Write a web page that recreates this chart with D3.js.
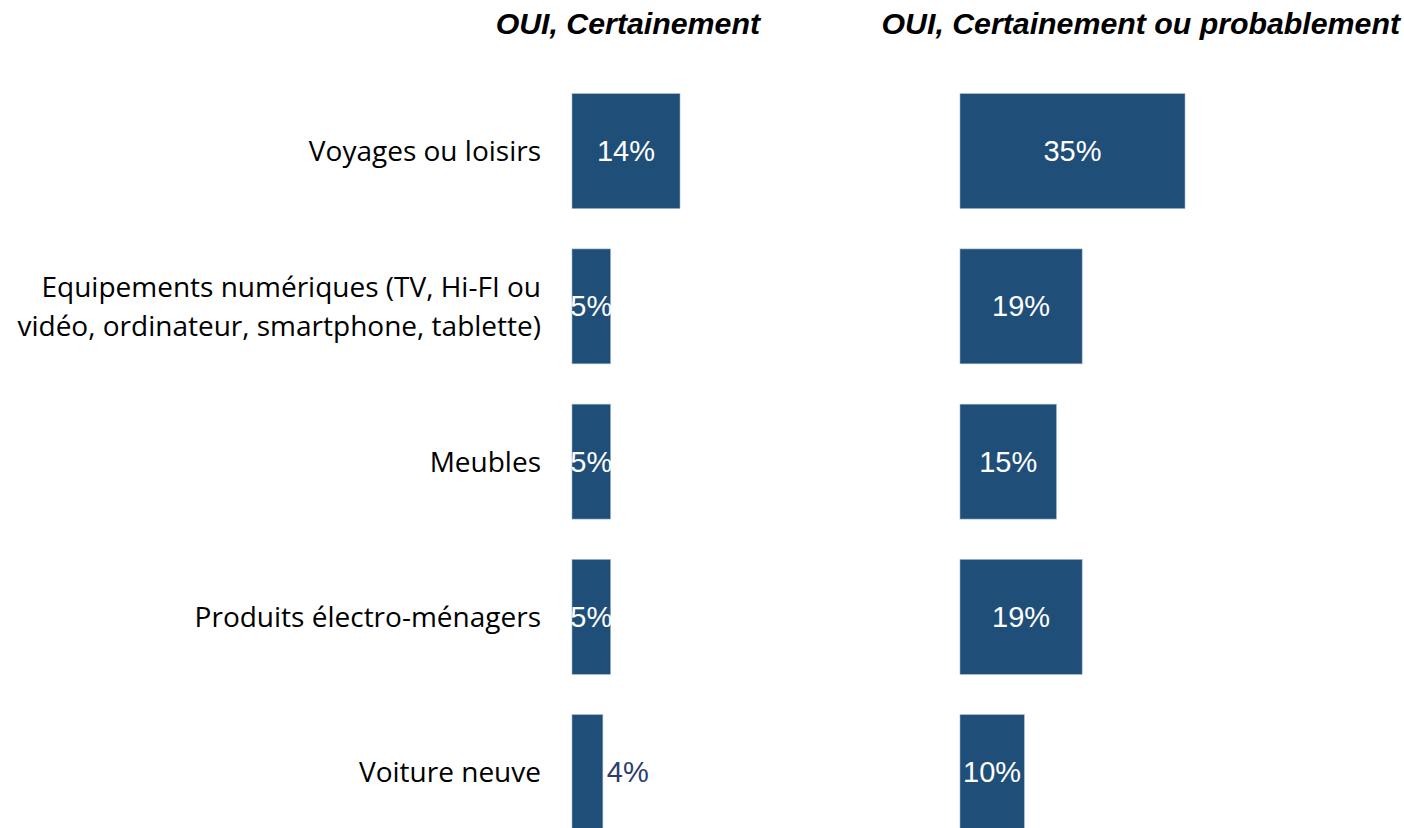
<!DOCTYPE html>
<html>
<head>
<meta charset="utf-8">
<script src="https://cdn.jsdelivr.net/npm/d3@7"></script>
<style>
  body { margin: 0; background: #fff; }
</style>
</head>
<body>
<div id="chart"></div>
<script>
// data
const categories = [
  ["Voyages ou loisirs"],
  ["Equipements numériques (TV, Hi-FI ou", "vidéo, ordinateur, smartphone, tablette)"],
  ["Meubles"],
  ["Produits électro-ménagers"],
  ["Voiture neuve"]
]
const certain = [14, 5, 5, 5, 4]
const certainOuProbable = [35, 19, 15, 19, 10]
const headers = ["OUI, Certainement", "OUI, Certainement ou probablement"]

const W = 1404, H = 828
const barColor = "#1f4e79"

const svg = d3.select('#chart')
  .append('svg')
    .attr('width', W)
    .attr('height', H)

const y = d3.scaleBand()
  .domain(d3.range(categories.length))
  .range([73.5, 849.75])
  .paddingInner(0.26)
  .paddingOuter(0.13)

// the two panels do not share a scale in the original
const xLeft = d3.scaleLinear().domain([0, 14]).range([572, 680])
const xRight = d3.scaleLinear().domain([0, 35]).range([960, 1185])

// category labels
const labels = svg.append('g')
  .attr('id', 'labels')
  .style('font-family', '"Open Sans", Lato, sans-serif')
  .style('font-size', '28px')
  .style('fill', '#000')

labels.selectAll('text')
  .data(categories)
  .enter()
  .append('text')
    .attr('text-anchor', 'end')
    .attr('x', 541)
    .attr('y', (d, i) => y(i) + y.bandwidth() / 2)
    .each(function (d) {
      const t = d3.select(this)
      d.forEach((line, j) => {
        t.append('tspan')
          .attr('x', 541)
          .attr('dy', j === 0 ? `${(-(d.length - 1) * 39) / 2 + 10}` : 39)
          .text(line)
      })
    })

function drawPanel(id, values, x, outsideLimit) {
  const g = svg.append('g').attr('id', id)

  g.selectAll('rect')
    .data(values)
    .enter()
    .append('rect')
      .attr('x', x(0))
      .attr('y', (d, i) => y(i))
      .attr('width', d => x(d) - x(0))
      .attr('height', y.bandwidth())
      .style('fill', barColor)
      .style('stroke', '#9fb4cb')
      .style('stroke-width', 0.6)

  g.selectAll('text')
    .data(values)
    .enter()
    .append('text')
      .attr('x', d => d < outsideLimit ? x(d) + 4 : (x(0) + x(d)) / 2)
      .attr('y', (d, i) => y(i) + y.bandwidth() / 2 + 10)
      .attr('text-anchor', d => d < outsideLimit ? 'start' : 'middle')
      .style('font-family', '"Liberation Sans", Arial, sans-serif')
      .style('font-size', '29px')
      .style('fill', d => d < outsideLimit ? '#2e3d6d' : '#fff')
      .text(d => `${d}%`)
}

drawPanel('left', certain, xLeft, 5)
drawPanel('right', certainOuProbable, xRight, 0)

// column headers
svg.append('g')
  .attr('id', 'headers')
  .selectAll('text')
  .data(headers)
  .enter()
  .append('text')
    .attr('x', (d, i) => [760, 1400][i])
    .attr('y', 34)
    .attr('text-anchor', 'end')
    .style('font-family', '"Liberation Sans", Arial, sans-serif')
    .style('font-size', '30.3px')
    .style('font-weight', 'bold')
    .style('font-style', 'italic')
    .text(d => d)
</script>
</body>
</html>
